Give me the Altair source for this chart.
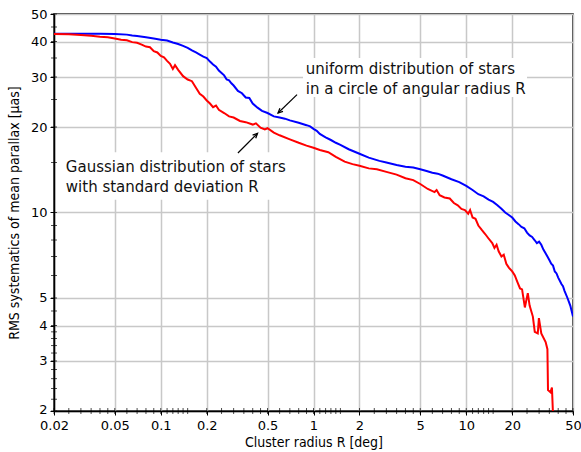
import altair as alt
import pandas as pd

# RMS systematics of the mean parallax versus cluster radius R
# (a) stars uniformly distributed in a circle of angular radius R
uniform_radius = [0.02, 0.03, 0.04, 0.05, 0.06, 0.065, 0.07, 0.08, 0.09, 0.1,
                  0.11, 0.12, 0.13, 0.14, 0.15, 0.16, 0.17, 0.18, 0.19, 0.2,
                  0.21, 0.22, 0.23, 0.24, 0.25, 0.26, 0.27, 0.28, 0.29, 0.3,
                  0.32, 0.34, 0.36, 0.38, 0.4, 0.43, 0.46, 0.5, 0.55, 0.6,
                  0.65, 0.7, 0.8, 0.9, 0.95, 1.0, 1.05, 1.1, 1.2, 1.3,
                  1.4, 1.5, 1.7, 2.0, 2.3, 2.7, 3.0, 3.5, 4.0, 4.5,
                  5.0, 5.5, 6.0, 6.5, 7.0, 8.0, 9.0, 10.0, 11.0, 12.0,
                  13.0, 14.0, 15.0, 16.0, 17.0, 18.0, 19.0, 20.0, 21.0, 22.0,
                  23.0, 24.0, 25.0, 26.0, 27.0, 28.0, 29.0, 30.0, 31.0, 32.0,
                  33.0, 34.0, 35.0, 36.0, 37.0, 38.0, 39.0, 40.0, 42.0, 43.0,
                  44.0, 46.0, 48.0, 50.0]
uniform_rms = [42.6, 42.6, 42.6, 42.5, 42.3, 42.0, 41.8, 41.4, 41.0, 40.6,
               40.3, 39.7, 39.2, 38.6, 38.0, 37.2, 36.6, 36.0, 35.4, 35.0,
               34.0, 33.2, 32.6, 31.6, 31.0, 30.4, 29.4, 29.2, 28.5, 28.0,
               26.8, 26.3, 25.4, 25.3, 24.2, 23.4, 22.8, 22.4, 21.8, 21.6,
               21.4, 21.1, 20.7, 20.3, 20.1, 19.7, 19.4, 18.9, 18.4, 18.0,
               17.6, 17.3, 16.7, 16.1, 15.6, 15.2, 15.0, 14.7, 14.5, 14.4,
               14.2, 14.0, 13.8, 13.7, 13.5, 13.1, 12.8, 12.4, 12.0, 11.6,
               11.4, 11.1, 10.9, 10.6, 10.3, 10.0, 9.8, 9.6, 9.3, 9.1,
               8.9, 8.8, 8.5, 8.3, 8.2, 8.0, 7.8, 7.9, 7.7, 7.4,
               7.2, 7.0, 6.8, 6.6, 6.5, 6.2, 6.1, 5.9, 5.6, 5.5,
               5.3, 5.0, 4.7, 4.3]

# (b) stars with a Gaussian distribution of standard deviation R
gauss_radius = [0.02, 0.025, 0.03, 0.035, 0.04, 0.045, 0.05, 0.055, 0.06, 0.065,
                0.07, 0.075, 0.08, 0.085, 0.09, 0.095, 0.1, 0.105, 0.11, 0.115,
                0.12, 0.124, 0.13, 0.14, 0.15, 0.16, 0.17, 0.18, 0.19, 0.2,
                0.21, 0.22, 0.23, 0.24, 0.26, 0.28, 0.3, 0.33, 0.36, 0.4,
                0.42, 0.45, 0.48, 0.5, 0.55, 0.6, 0.7, 0.8, 0.9, 1.0,
                1.1, 1.25, 1.4, 1.6, 1.8, 2.0, 2.3, 2.6, 3.0, 3.5,
                4.0, 4.5, 5.0, 5.6, 6.2, 6.4, 6.7, 7.2, 7.8, 8.3,
                8.8, 9.3, 9.8, 10.3, 10.6, 11.0, 11.5, 12.0, 12.6, 13.3,
                14.0, 14.8, 15.3, 15.8, 16.3, 17.0, 17.6, 18.3, 19.0, 20.0,
                20.8, 21.6, 22.5, 23.2, 24.2, 25.3, 26.0, 27.3, 28.1, 29.4,
                29.9, 31.0, 33.1, 34.0, 34.3, 35.6, 36.4, 37.2]
gauss_rms = [42.5, 42.4, 42.2, 41.9, 41.6, 41.4, 41.0, 40.6, 40.4, 39.8,
             39.6, 39.0, 38.4, 38.2, 37.0, 36.6, 35.6, 35.2, 34.2, 33.4,
             32.0, 33.0, 31.8, 30.2, 29.4, 29.0, 27.5, 26.2, 25.6, 24.8,
             24.2, 23.5, 23.8, 23.0, 22.4, 21.8, 21.6, 21.0, 20.8, 20.4,
             20.6, 19.9, 19.6, 19.8, 19.1, 18.7, 18.1, 17.6, 17.2, 16.9,
             16.6, 16.3, 15.7, 15.1, 14.8, 14.6, 14.3, 14.2, 13.9, 13.6,
             13.2, 13.0, 12.6, 12.1, 11.8, 12.0, 11.5, 11.3, 11.2, 10.8,
             10.6, 10.3, 10.2, 9.9, 10.2, 9.6, 9.5, 9.0, 8.7, 8.4,
             8.1, 7.8, 7.5, 7.7, 7.3, 7.0, 7.1, 6.6, 6.4, 6.2,
             6.0, 5.7, 5.4, 5.36, 4.63, 5.2, 4.7, 4.3, 3.8, 3.75,
             4.25, 3.75, 3.5, 3.3, 2.37, 2.33, 2.42, 1.8]

# Axis tick positions
x_major = [0.02, 0.05, 0.1, 0.2, 0.5, 1, 2, 5, 10, 20, 50]
x_minor = [0.025, 0.03, 0.035, 0.04, 0.045, 0.06, 0.07, 0.08, 0.09,
           0.11, 0.12, 0.13, 0.14, 0.15, 0.25, 0.3, 0.35, 0.4, 0.45,
           0.6, 0.7, 0.8, 0.9, 1.1, 1.2, 1.3, 1.4, 1.5, 2.5, 3, 3.5, 4, 4.5,
           6, 7, 8, 9, 11, 12, 13, 14, 15, 25, 30, 35, 40, 45]
y_major = [2, 3, 4, 5, 10, 20, 30, 40, 50]
y_minor = [2.2, 2.4, 2.6, 2.8, 3.2, 3.4, 3.6, 3.8, 4.5, 6, 7, 8, 9,
           15, 25, 35, 45]

# Annotation texts, their white backing boxes and arrows
notes = ["uniform distribution of stars\nin a circle of angular radius R",
         "Gaussian distribution of stars\nwith standard deviation R"]
note_x = [0.89, 0.0239]
note_y = [30.8, 13.9]
box_x = [0.854, 0.0219]
box_x2 = [25.0, 0.6]
box_y = [35.0, 16.3]
box_y2 = [25.5, 11.1]
arrow_tail_x = [0.78, 0.32]
arrow_tail_y = [26.0, 16.2]
arrow_head_x = [0.586, 0.43]
arrow_head_y = [22.4, 19.0]
arrow_angle = [226, 45]

W, H = 519, 397
FONT = "DejaVu Sans"
TITLE_FONT = "DejaVu Sans Condensed, DejaVu Sans, sans-serif"

xs = alt.Scale(type="log", domain=[0.02, 50], nice=False)
ys = alt.Scale(type="log", domain=[2, 50], nice=False)

lines = pd.concat([
    pd.DataFrame({"R": uniform_radius, "rms": uniform_rms, "dist": "uniform"}),
    pd.DataFrame({"R": gauss_radius, "rms": gauss_rms, "dist": "gauss"}),
])

x_axis = alt.Axis(values=x_major, format="~g", grid=True, gridColor="#c8c8c8",
                  gridWidth=1.5, tickSize=4, tickColor="black", tickWidth=1,
                  domainColor="black", domainWidth=1.5, labelFont=FONT,
                  labelFontSize=13, labelColor="black", labelFlush=False,
                  labelOverlap=False, labelPadding=4,
                  title="Cluster radius R [deg]", titleFont=TITLE_FONT,
                  titleFontSize=14, titleFontWeight="normal", titleColor="black",
                  titlePadding=3)
y_axis = alt.Axis(values=y_major, format="~g", grid=True, gridColor="#c8c8c8",
                  gridWidth=1.5, tickSize=4, tickColor="black", tickWidth=1,
                  domainColor="black", domainWidth=1.5, labelFont=FONT,
                  labelFontSize=13, labelColor="black", labelOverlap=False,
                  labelPadding=3,
                  labelOffset={"condition": {"test": "datum.value == 2",
                                             "value": -2}, "value": 0},
                  title="RMS systematics of mean parallax [μas]",
                  titleFont=TITLE_FONT, titleFontSize=14,
                  titleFontWeight="normal", titleColor="black", titlePadding=9)

base_lines = alt.Chart(lines).mark_line(strokeWidth=2, clip=True).encode(
    x=alt.X("R:Q", scale=xs, axis=x_axis),
    y=alt.Y("rms:Q", scale=ys, axis=y_axis),
    color=alt.Color("dist:N", scale=alt.Scale(domain=["uniform", "gauss"],
                                              range=["#0000ff", "#ff0000"]),
                    legend=None),
    order="R:Q",
)

ann = pd.DataFrame({"text": notes, "x": note_x, "y": note_y,
                    "bx": box_x, "bx2": box_x2, "by": box_y, "by2": box_y2,
                    "tx": arrow_tail_x, "ty": arrow_tail_y,
                    "hx": arrow_head_x, "hy": arrow_head_y,
                    "angle": arrow_angle})

boxes = alt.Chart(ann).mark_rect(color="white").encode(
    x=alt.X("bx:Q", scale=xs), x2="bx2:Q",
    y=alt.Y("by:Q", scale=ys), y2="by2:Q",
)

texts = alt.Chart(ann).transform_calculate(
    label="split(datum.text, '\\n')"
).mark_text(align="left", baseline="alphabetic", font=FONT, fontSize=15,
            lineHeight=20, color="#111111").encode(
    x=alt.X("x:Q", scale=xs), y=alt.Y("y:Q", scale=ys), text="label:N",
)

shafts = alt.Chart(ann).mark_rule(color="black", strokeWidth=1.2).encode(
    x=alt.X("tx:Q", scale=xs), x2="hx:Q",
    y=alt.Y("ty:Q", scale=ys), y2="hy:Q",
)

heads = alt.Chart(ann).mark_point(
    shape="M -0.7 1.5 L 0 0 L 0.7 1.5", filled=False, color="black",
    strokeWidth=1.3, size=40, opacity=1,
).encode(
    x=alt.X("hx:Q", scale=xs), y=alt.Y("hy:Q", scale=ys),
    angle=alt.Angle("angle:Q", scale=None),
)

x_ticks = alt.Chart(pd.DataFrame({"v": x_minor + x_major})).mark_tick(
    color="black", thickness=1, size=6).encode(
    x=alt.X("v:Q", scale=xs), y=alt.value(H),
)
y_ticks = alt.Chart(pd.DataFrame({"v": y_minor + y_major})).mark_tick(
    color="black", thickness=1, size=6).encode(
    y=alt.Y("v:Q", scale=ys), x=alt.value(0),
)

chart = alt.layer(
    boxes, base_lines, shafts, heads, texts, x_ticks, y_ticks
).properties(
    width=W, height=H,
    autosize=alt.AutoSizeParams(type="none"),
    padding={"left": 54, "top": 14, "right": 8, "bottom": 41},
    background="white",
).configure_view(stroke="black", strokeWidth=1.5)

chart.save("out.html", embed_options={"renderer": "svg", "actions": False})
